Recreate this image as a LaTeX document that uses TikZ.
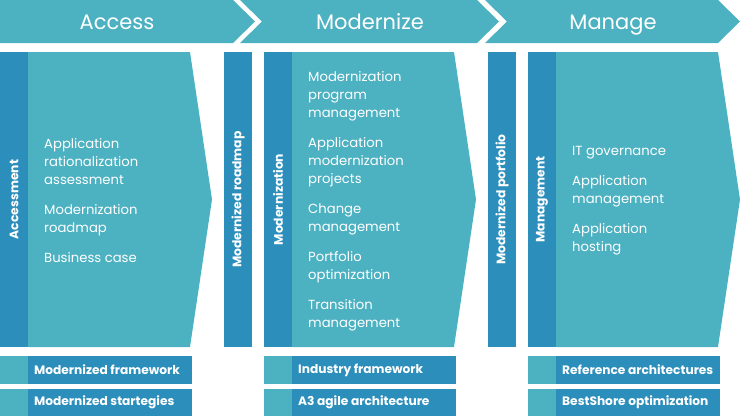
\documentclass[tikz,border=0pt]{standalone}
\usepackage{fontspec}
\setmainfont{Poppins}
\definecolor{lteal}{RGB}{76,177,193}
\definecolor{dblue}{RGB}{43,142,187}
\begin{document}
\begin{tikzpicture}[x=1pt,y=-1pt,
  hdr/.style={text=white,anchor=base,inner sep=0pt,font=\fontsize{21}{24}\selectfont},
  items/.style={text=white,anchor=west,align=left,inner sep=0pt,font=\fontsize{13.2}{18}\selectfont},
  vlabel/.style={text=white,rotate=90,inner sep=0pt,font=\bfseries\fontsize{12.3}{14}\selectfont},
  botbox/.style={fill=dblue,anchor=north west,minimum width=164pt,minimum height=27.5pt,inner sep=0pt},
  bottxt/.style={text=white,anchor=west,inner sep=0pt,font=\bfseries\fontsize{12.2}{14}\selectfont},
  botsq/.style={fill=lteal,anchor=north west,minimum width=28pt,minimum height=27.5pt,inner sep=0pt}]
\useasboundingbox (0,0) rectangle (740,416);
% header chevrons
\fill[lteal] (0,0) -- (233,0) -- (255,21.5) -- (233,43) -- (0,43) -- cycle;
\fill[lteal] (240,0) -- (477,0) -- (499,21.5) -- (477,43) -- (240,43) -- (262,21.5) -- cycle;
\fill[lteal] (485,0) -- (718,0) -- (740,21.5) -- (718,43) -- (485,43) -- (507,21.5) -- cycle;
\node[hdr] (h1) at (117,29.5) {Access};
\node[hdr] (h2) at (370,29.5) {Modernize};
\node[hdr] (h3) at (613,29.5) {Manage};
% panels
\fill[dblue] (0,52) rectangle (28,347);
\fill[lteal] (28,52) -- (190,52) -- (212,199.5) -- (190,347) -- (28,347) -- cycle;
\fill[dblue] (224,52) rectangle (252,347);
\fill[dblue] (264,52) rectangle (292,347);
\fill[lteal] (292,52) -- (454,52) -- (476,199.5) -- (454,347) -- (292,347) -- cycle;
\fill[dblue] (488,52) rectangle (516,347);
\fill[dblue] (528,52) rectangle (556,347);
\fill[lteal] (556,52) -- (718,52) -- (740,199.5) -- (718,347) -- (556,347) -- cycle;
% vertical labels
\node[vlabel] (v1) at (14,199.5) {Accessment};
\node[vlabel] (v2) at (238,199.5) {Modernized roadmap};
\node[vlabel] (v3) at (278,199.5) {Modernization};
\node[vlabel] (v4) at (502,199.5) {Modernized portfolio};
\node[vlabel] (v5) at (542,199.5) {Management};
% items
\node[items] (t1) at (44,201) {Application\\rationalization\\assessment\\[12pt]Modernization\\roadmap\\[12pt]Business case};
\node[items] (t2) at (308,201) {Modernization\\program\\management\\[12pt]Application\\modernization\\projects\\[12pt]Change\\management\\[12pt]Portfolio\\optimization\\[12pt]Transition\\management};
\node[items] (t3) at (572,201) {IT governance\\[12pt]Application\\management\\[12pt]Application\\hosting};
% bottom rows
\node[botsq] (s1) at (0,356) {};
\node[botbox] (b1) at (28,356) {};
\node[bottxt] (bt1) at ([xshift=6pt]b1.west) {Modernized framework};
\node[botsq] (s2) at (0,388.5) {};
\node[botbox] (b2) at (28,388.5) {};
\node[bottxt] (bt2) at ([xshift=6pt]b2.west) {Modernized startegies};
\node[botsq] (s3) at (264,356) {};
\node[botbox] (b3) at (292,356) {};
\node[bottxt] (bt3) at ([xshift=6pt]b3.west) {Industry framework};
\node[botsq] (s4) at (264,388.5) {};
\node[botbox] (b4) at (292,388.5) {};
\node[bottxt] (bt4) at ([xshift=6pt]b4.west) {A3 agile architecture};
\node[botsq] (s5) at (528,356) {};
\node[botbox] (b5) at (556,356) {};
\node[bottxt] (bt5) at ([xshift=6pt]b5.west) {Reference architectures};
\node[botsq] (s6) at (528,388.5) {};
\node[botbox] (b6) at (556,388.5) {};
\node[bottxt] (bt6) at ([xshift=6pt]b6.west) {BestShore optimization};
\end{tikzpicture}
\end{document}
